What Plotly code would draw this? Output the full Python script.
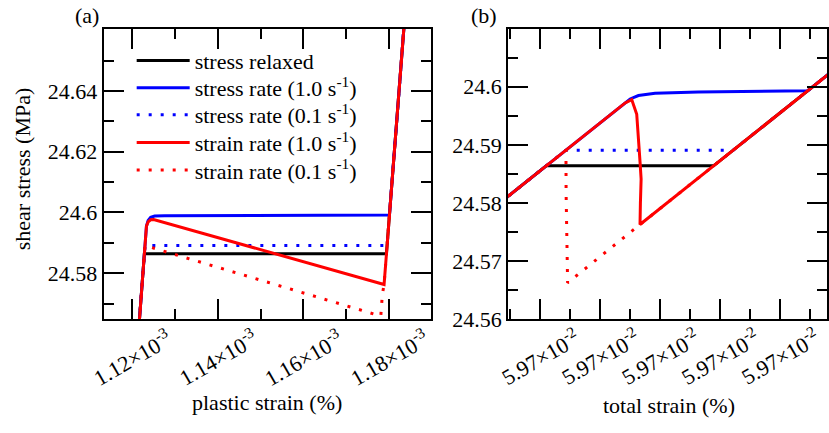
import plotly.graph_objects as go

W, H = 829, 433
FONT = "'Liberation Serif', 'Times New Roman', Times, 'DejaVu Serif', serif"
BLACK, BLUE, RED = "#000000", "#0000ff", "#ff0000"

# ---------------- panel (a): shear stress vs plastic strain (%) ----------------
a_relaxed_x = [1.12149e-3, 1.12289e-3, 1.17939e-3, 1.18370e-3]
a_relaxed_y = [24.56, 24.5864, 24.5864, 24.665]
a_srate1_x = [1.12149e-3, 1.12338e-3, 1.12377e-3, 1.12436e-3, 1.12529e-3, 1.12762e-3, 1.18010e-3, 1.18370e-3]
a_srate1_y = [24.56, 24.5955, 24.5974, 24.5984, 24.5988, 24.5989, 24.5992, 24.665]
a_srate01_x = [1.12149e-3, 1.12304e-3, 1.17954e-3, 1.18370e-3]
a_srate01_y = [24.56, 24.5891, 24.5891, 24.665]
a_erate1_x = [1.12149e-3, 1.12338e-3, 1.12377e-3, 1.12436e-3, 1.12506e-3, 1.17884e-3, 1.18370e-3]
a_erate1_y = [24.56, 24.5955, 24.5969, 24.5976, 24.5977, 24.5763, 24.665]
a_erate01_x = [1.12149e-3, 1.12304e-3, 1.17807e-3, 1.17844e-3, 1.17884e-3, 1.18370e-3]
a_erate01_y = [24.56, 24.5891, 24.5659, 24.5731, 24.5763, 24.665]

a_xticks = [1.12e-3, 1.14e-3, 1.16e-3, 1.18e-3]
a_xticklabels = ["1.12×10<sup>-3</sup>", "1.14×10<sup>-3</sup>", "1.16×10<sup>-3</sup>", "1.18×10<sup>-3</sup>"]
a_xminor = [1.13e-3, 1.15e-3, 1.17e-3]
a_yticks = [24.58, 24.60, 24.62, 24.64]
a_yticklabels = ["24.58", "24.6", "24.62", "24.64"]
a_yminor = [24.57, 24.59, 24.61, 24.63, 24.65]

# ---------------- panel (b): shear stress vs total strain (%) ----------------
b_relaxed_x = [0.05964, 0.05966196, 0.05971787, 0.05976]
b_relaxed_y = [24.57739, 24.5864, 24.5864, 24.60368]
b_srate1_x = [0.05964, 0.05968834, 0.0596900, 0.05969277, 0.05969833, 0.05971277, 0.05974932, 0.05976]
b_srate1_y = [24.57739, 24.59722, 24.5979, 24.5985, 24.5989, 24.5991, 24.5993, 24.60368]
b_srate01_x = [0.05964, 0.05966855, 0.05972446, 0.05976]
b_srate01_y = [24.57739, 24.5891, 24.5891, 24.60368]
b_erate1_x = [0.05964, 0.05968834, 0.05969053, 0.0596922, 0.05969333, 0.05969367, 0.05969343, 0.0596933, 0.05976]
b_erate1_y = [24.57739, 24.59722, 24.59779, 24.59528, 24.58692, 24.58413, 24.57995, 24.57632, 24.60368]
b_erate01_x = [0.05964, 0.05966855, 0.0596686, 0.0596691, 0.0596933, 0.05976]
b_erate01_y = [24.57739, 24.5891, 24.58162, 24.56629, 24.57632, 24.60368]

b_xticks = [0.05966, 0.05968, 0.05970, 0.05972, 0.05974]
b_xticklabels = ["5.97×10<sup>-2</sup>"] * 5
b_xminor = [0.05965, 0.05967, 0.05969, 0.05971, 0.05973, 0.05975]
b_yticks = [24.56, 24.57, 24.58, 24.59, 24.60]
b_yticklabels = ["24.56", "24.57", "24.58", "24.59", "24.6"]
b_yminor = [24.565, 24.575, 24.585, 24.595, 24.605]

series_names = ["stress relaxed", "stress rate (1.0 s<sup>-1</sup>)", "stress rate (0.1 s<sup>-1</sup>)",
                "strain rate (1.0 s<sup>-1</sup>)", "strain rate (0.1 s<sup>-1</sup>)"]
series_colors = [BLACK, BLUE, BLUE, RED, RED]
series_dash = ["solid", "solid", "3px,9px", "solid", "3px,9px"]

a_data = [(a_relaxed_x, a_relaxed_y), (a_srate1_x, a_srate1_y), (a_srate01_x, a_srate01_y),
          (a_erate1_x, a_erate1_y), (a_erate01_x, a_erate01_y)]
b_data = [(b_relaxed_x, b_relaxed_y), (b_srate1_x, b_srate1_y), (b_srate01_x, b_srate01_y),
          (b_erate1_x, b_erate1_y), (b_erate01_x, b_erate01_y)]

legend_ids = ["legend", "legend2", "legend3", "legend4", "legend5"]

fig = go.Figure()
for i, (xs, ys) in enumerate(a_data):
    fig.add_trace(go.Scatter(x=xs, y=ys, mode="lines", name=series_names[i],
                             line=dict(color=series_colors[i], width=3, dash=series_dash[i]),
                             xaxis="x", yaxis="y", showlegend=True, legend=legend_ids[i]))
for i, (xs, ys) in enumerate(b_data):
    fig.add_trace(go.Scatter(x=xs, y=ys, mode="lines", name=series_names[i],
                             line=dict(color=series_colors[i], width=3, dash=series_dash[i]),
                             xaxis="x2", yaxis="y2", showlegend=False))

tickfont = dict(family=FONT, size=22, color="black")


def xax(domain, rng, ticks, minor):
    return dict(domain=domain, range=rng, tickmode="array", tickvals=ticks, showticklabels=False,
                ticks="inside", ticklen=20, tickwidth=1.5, tickcolor="black",
                minor=dict(tickmode="array", tickvals=minor, ticks="inside", ticklen=10,
                           tickwidth=1.5, tickcolor="black", showgrid=False),
                showline=True, linecolor="black", linewidth=2, mirror="allticks",
                showgrid=False, zeroline=False)


def yax(domain, rng, ticks, labels, minor, anchor):
    return dict(domain=domain, range=rng, tickmode="array", tickvals=ticks, ticktext=labels,
                tickfont=tickfont, anchor=anchor,
                ticks="inside", ticklen=20, tickwidth=1.5, tickcolor="black",
                minor=dict(tickmode="array", tickvals=minor, ticks="inside", ticklen=10,
                           tickwidth=1.5, tickcolor="black", showgrid=False),
                showline=True, linecolor="black", linewidth=2, mirror="allticks",
                showgrid=False, zeroline=False)


ydom = [1 - 329.3 / H, 1 - 29.5 / H]
fig.update_layout(
    width=W, height=H, margin=dict(l=0, r=0, t=0, b=0),
    paper_bgcolor="white", plot_bgcolor="white",
    font=dict(family=FONT, size=22, color="black"),
    xaxis=xax([104 / W, 432 / W], [1.113411e-3, 1.18978e-3], a_xticks, a_xminor) | dict(anchor="y"),
    yaxis=yax(ydom, [24.5648, 24.6605], a_yticks, a_yticklabels, a_yminor, "x"),
    xaxis2=xax([509.3 / W, 1.0], [0.0596492, 0.0597558], b_xticks, b_xminor) | dict(anchor="y2"),
    yaxis2=yax(ydom, [24.56, 24.61], b_yticks, b_yticklabels, b_yminor, "x2"),
    showlegend=True,
)

row_centers = [62.7, 90.7, 118.5, 147.0, 175.5]
for lid, yc in zip(legend_ids, row_centers):
    fig.update_layout({lid: dict(x=132 / W, y=1 - yc / H, xanchor="left", yanchor="middle",
                                 font=dict(family=FONT, size=22, color="black"),
                                 bgcolor="rgba(0,0,0,0)", borderwidth=0, itemwidth=53)})

ann = []
for v, t in zip(a_xticks, a_xticklabels):
    ann.append(dict(x=v, xref="x", y=1 - 368 / H, yref="paper", text=t, textangle=-30,
                    showarrow=False, xanchor="center", yanchor="middle", font=tickfont))
for v, t in zip(b_xticks, b_xticklabels):
    ann.append(dict(x=v, xref="x2", y=1 - 367 / H, yref="paper", text=t, textangle=-30,
                    showarrow=False, xanchor="center", yanchor="middle", font=tickfont))
ann += [
    dict(x=268 / W, y=1 - 415 / H, xref="paper", yref="paper", text="plastic strain (%)",
         showarrow=False, xanchor="center", yanchor="middle", font=tickfont),
    dict(x=671 / W, y=1 - 418 / H, xref="paper", yref="paper", text="total strain (%)",
         showarrow=False, xanchor="center", yanchor="middle", font=tickfont),
    dict(x=22.5 / W, y=1 - 174 / H, xref="paper", yref="paper", text="shear stress (MPa)",
         textangle=-90, showarrow=False, xanchor="center", yanchor="middle", font=tickfont),
    dict(x=87 / W, y=1 - 16 / H, xref="paper", yref="paper", text="(a)",
         showarrow=False, xanchor="center", yanchor="middle", font=tickfont),
    dict(x=485 / W, y=1 - 16 / H, xref="paper", yref="paper", text="(b)",
         showarrow=False, xanchor="center", yanchor="middle", font=tickfont),
]
fig.update_layout(annotations=ann)

fig.write_html("out.html")
